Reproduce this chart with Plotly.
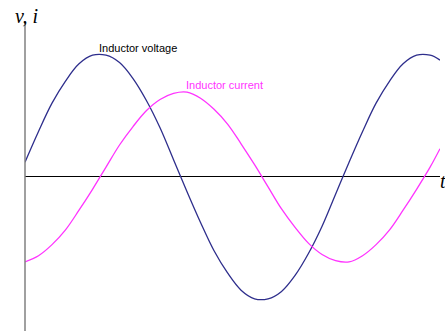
import plotly.graph_objects as go

# phase angle in degrees (time axis)
theta = [0, 15, 30, 45, 60, 75, 90, 105, 120, 135, 150, 165, 180, 195, 210, 225,
         240, 255, 270, 285, 300, 315, 330, 345, 360, 375, 390, 405, 420, 435, 450, 461]

# inductor voltage (peak = 1)
voltage = [0.12, 0.37, 0.60, 0.78, 0.92, 0.99, 0.99, 0.93, 0.80, 0.62, 0.40, 0.14,
           -0.12, -0.37, -0.60, -0.78, -0.92, -0.99, -0.99, -0.93, -0.80, -0.62, -0.40, -0.14,
           0.12, 0.37, 0.60, 0.78, 0.92, 0.99, 0.99, 0.95]

# inductor current (lags voltage by 90 deg)
current = [-0.69, -0.64, -0.55, -0.43, -0.27, -0.10, 0.08, 0.26, 0.41, 0.54, 0.63, 0.68,
           0.69, 0.64, 0.55, 0.43, 0.27, 0.10, -0.08, -0.26, -0.41, -0.54, -0.63, -0.68,
           -0.69, -0.64, -0.55, -0.43, -0.27, -0.10, 0.08, 0.23]

fig = go.Figure()
fig.add_trace(go.Scatter(x=theta, y=voltage, mode='lines', line_shape='spline',
                         line=dict(color='#2e2e8c', width=1.3), name='Inductor voltage'))
fig.add_trace(go.Scatter(x=theta, y=current, mode='lines', line_shape='spline',
                         line=dict(color='#ff33ff', width=1.3), name='Inductor current'))

fig.update_layout(
    width=445, height=331,
    margin=dict(l=25, r=5, t=21, b=0, autoexpand=False),
    paper_bgcolor='white', plot_bgcolor='white',
    showlegend=False,
    xaxis=dict(range=[0, 461], showgrid=False, zeroline=False, showticklabels=False,
               ticks='', showline=False),
    yaxis=dict(range=[-1.252, 1.268], showgrid=False, showticklabels=False, ticks='',
               zeroline=True, zerolinecolor='black', zerolinewidth=1,
               showline=False),
    shapes=[dict(type='line', xref='paper', yref='paper', x0=0, x1=0, y0=0, y1=1,
                 line=dict(color='#808080', width=1.5))],
    annotations=[
        dict(text='<i>v, i</i>', xref='paper', yref='paper', x=-0.029, y=1.016,
             xanchor='left', yanchor='middle', showarrow=False,
             font=dict(family='Liberation Serif', size=20, color='black')),
        dict(text='<i>t</i>', xref='paper', yref='paper', x=0.994, y=0.484,
             xanchor='left', yanchor='middle', showarrow=False,
             font=dict(family='Liberation Serif', size=20, color='black')),
        dict(text='Inductor voltage', x=80.5, y=1.05, xref='x', yref='y',
             xanchor='left', yanchor='middle', showarrow=False,
             font=dict(family='Liberation Sans', size=11, color='black')),
        dict(text='Inductor current', x=177, y=0.75, xref='x', yref='y',
             xanchor='left', yanchor='middle', showarrow=False,
             font=dict(family='Liberation Sans', size=11, color='#ff33ff')),
    ],
)

# drop the default page margin so the figure sits at the window corner
fig.write_html('out.html', config={'displayModeBar': False},
               post_script="document.body.style.margin='0';document.body.style.overflow='hidden';")
